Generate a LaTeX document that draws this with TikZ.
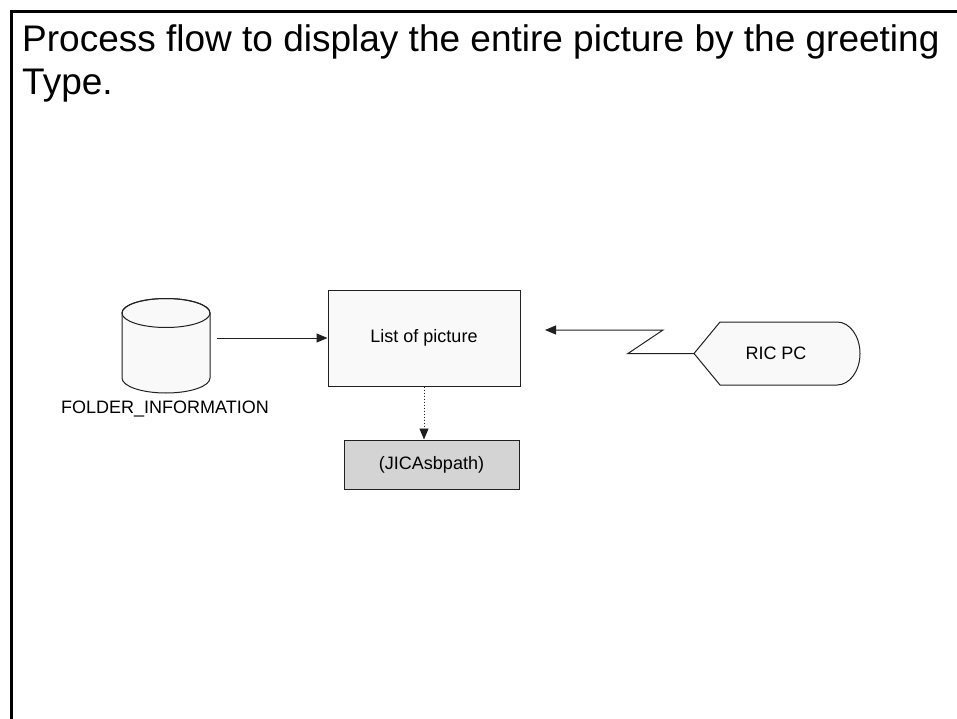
\documentclass[tikz,border=0pt]{standalone}
\usepackage{fontspec}
\setmainfont{Liberation Sans}
\usetikzlibrary{arrows.meta}
\definecolor{boxfill}{HTML}{F9F9F9}
\definecolor{grayfill}{HTML}{D4D4D4}
\definecolor{edge}{HTML}{202020}
\tikzset{
  shapeline/.style={draw=edge, line width=1pt},
  procbox/.style={shapeline, fill=boxfill, minimum width=192pt, minimum height=96pt, inner sep=0pt, font=\fontsize{18}{21}\selectfont},
  graybox/.style={shapeline, fill=grayfill, minimum width=175pt, minimum height=49pt, inner sep=0pt, font=\fontsize{18}{21}\selectfont},
  small/.style={font=\fontsize{18}{21}\selectfont, inner sep=0pt},
  big/.style={font=\fontsize{37}{42}\selectfont, inner sep=0pt, anchor=base west},
  arr/.style={draw=edge, line width=1pt, -{Triangle[length=11pt,width=9pt]}},
}
\begin{document}
\begin{tikzpicture}[x=1pt,y=-1pt]
\useasboundingbox (0,0) rectangle (957,719);
% frame
\draw[line width=3pt] (11,719) -- (11,12) -- (957,12);
% title
\node[big] (t1) at (22,52) {Process flow to display the entire picture by the greeting};
\node[big] (t2) at (22,95) {Type.};
% cylinder
\draw[shapeline, fill=boxfill] (122,313) -- (122,378)
  arc[start angle=180, end angle=360, x radius=44pt, y radius=15pt]
  -- (210,313)
  arc[start angle=0, end angle=180, x radius=44pt, y radius=14.5pt] -- cycle;
\draw[shapeline] (166,313) ellipse [x radius=44pt, y radius=14.5pt];
\node[minimum width=102pt, minimum height=95pt, inner sep=0pt] (db) at (166,345.5) {};
\node[small] (dblabel) at (165,409) {FOLDER\_INFORMATION};
% list box
\node[procbox] (list) at (424,338) {List of picture};
% gray box
\node[graybox] (jica) at (431.5,464.5) {(JICAsbpath)};
% RIC PC display shape
\draw[shapeline, fill=boxfill] (694,353.5) -- (720,322) -- (837,322)
  arc[start angle=90, end angle=-90, x radius=23pt, y radius=31.5pt]
  -- (720,385) -- cycle;
\coordinate (ricw) at (694,353.5);
\node[small] (ric) at (776,353.5) {RIC PC};
\coordinate (tip) at (545,330);
% connectors
\draw[arr] (db.east |- list.west) -- (list.west);
\draw[arr, dotted, line width=0.8pt] (list.south) -- (list.south |- jica.north);
\draw[arr] (ricw) -- (628,353.5) -- (663,330) -- (tip);
\end{tikzpicture}
\end{document}
